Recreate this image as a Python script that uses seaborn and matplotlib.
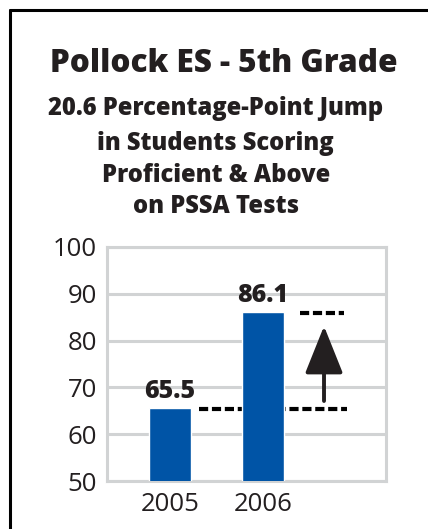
import matplotlib
matplotlib.use("Agg")
import matplotlib.pyplot as plt
from matplotlib.lines import Line2D
import seaborn as sns
import pandas as pd

years = ["2005", "2006"]
values = [65.5, 86.1]
title = "Pollock ES - 5th Grade"
subtitle_lines = ["20.6 Percentage-Point Jump", "in Students Scoring",
                  "Proficient & Above", "on PSSA Tests"]
y_ticks = [50, 60, 70, 80, 90, 100]

sns.set_style("white")
plt.rcParams['font.family'] = ['Open Sans', 'DejaVu Sans']

TXT = "#231f20"
BAR = "#0054a6"
GRID = "#d1d3d4"

fig = plt.figure(figsize=(4.28, 5.29), dpi=100)
ax = fig.add_axes([0.25, 0.0907, 0.652, 0.4424])

df = pd.DataFrame({"year": years, "value": values})
sns.barplot(data=df, x="year", y="value", color=BAR, width=0.45,
            saturation=1, ax=ax, zorder=3)

ax.set_ylim(50, 100)
ax.set_xlim(-0.677, 2.323)
ax.set_yticks(y_ticks)
ax.set_xlabel("")
ax.set_ylabel("")
ax.yaxis.grid(True, color=GRID, lw=2.2, zorder=0)
ax.xaxis.grid(False)
ax.set_axisbelow(True)
for s in ax.spines.values():
    s.set_visible(True)
    s.set_color(GRID)
    s.set_linewidth(2.2)
ax.tick_params(axis='y', length=0, pad=7, labelsize=18.5, labelcolor=TXT)
ax.tick_params(axis='x', length=0, pad=8, labelsize=18.5, labelcolor=TXT)

for c in ax.containers:
    ax.bar_label(c, labels=[f"{v:.1f}" for v in values], padding=3,
                 fontsize=18, fontweight='heavy', color=TXT)

# dashed reference lines
ax.plot([0.312, 1.903], [values[0] - 0.2, values[0] - 0.2], color="black",
        lw=3, dashes=(2.2, 0.9), zorder=2)
ax.plot([1.398, 1.871], [values[1] - 0.2, values[1] - 0.2], color="black",
        lw=3, dashes=(2.2, 0.9), zorder=2)

# arrow
ax.annotate("", xy=(1.656, 83.1), xytext=(1.656, 67.1),
            arrowprops=dict(arrowstyle="-|>,head_length=0.8,head_width=0.32",
                            mutation_scale=37, lw=2.8, color=TXT,
                            shrinkA=0, shrinkB=0), zorder=4)

# titles
fig.text(0.522, 1 - 72 / 529, title, ha='center', va='baseline',
         fontsize=22.7, fontweight='heavy', color=TXT)
baselines = [115, 150, 182, 213]
for line, b in zip(subtitle_lines, baselines):
    fig.text(0.504, 1 - b / 529, line, ha='center', va='baseline',
             fontsize=17.1, fontweight='heavy', color=TXT)

# frame
fig.add_artist(Line2D([9.5 / 428, 1.0], [1 - 9.5 / 529, 1 - 9.5 / 529],
                      transform=fig.transFigure, color='black', lw=2.2))
fig.add_artist(Line2D([9.5 / 428, 9.5 / 428], [0, 1 - 9.5 / 529],
                      transform=fig.transFigure, color='black', lw=2.2))

fig.savefig("out.png", dpi=100)
